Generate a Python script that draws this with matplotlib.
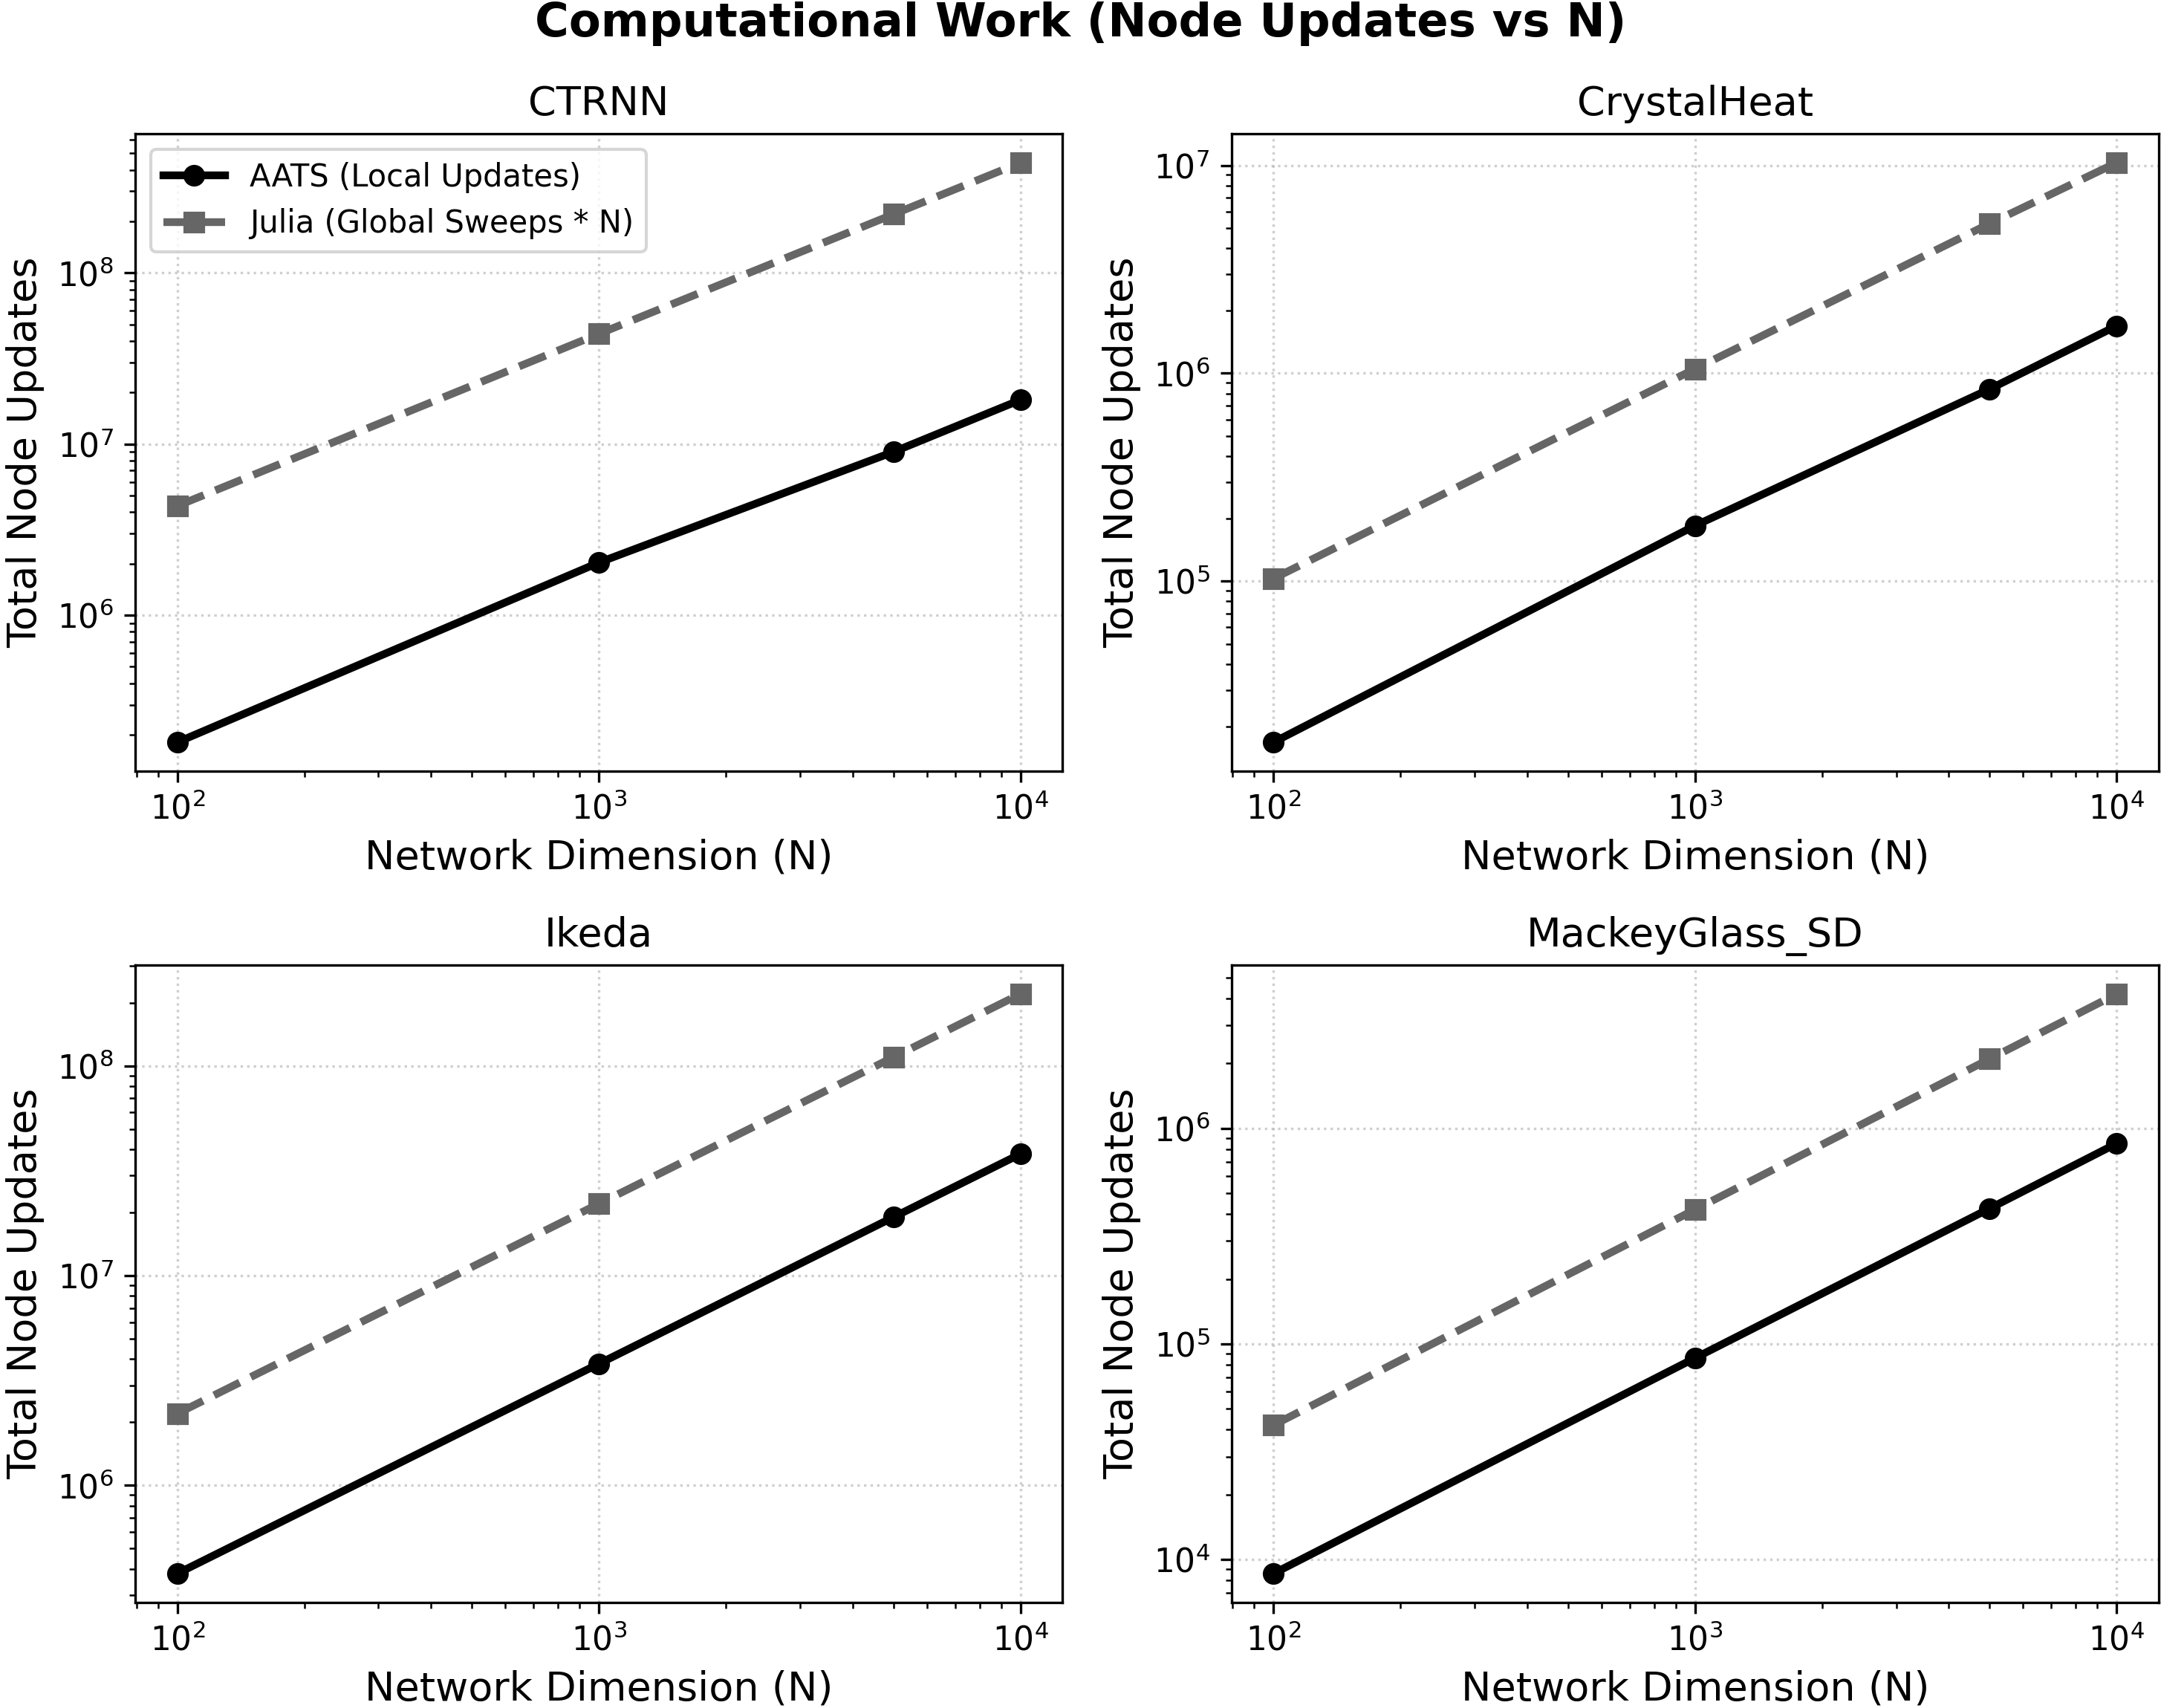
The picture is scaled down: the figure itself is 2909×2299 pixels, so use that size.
import matplotlib
matplotlib.use("Agg")
import matplotlib.pyplot as plt

N = [100, 1000, 5000, 10000]
titles = ["CTRNN", "CrystalHeat", "Ikeda", "MackeyGlass_SD"]

aats_ctrnn = [1.81e5, 2.03e6, 9.0e6, 1.81e7]
julia_ctrnn = [4.35e6, 4.4e7, 2.2e8, 4.4e8]

aats_crystal = [1.68e4, 1.85e5, 8.4e5, 1.69e6]
julia_crystal = [1.03e5, 1.05e6, 5.25e6, 1.03e7]

aats_ikeda = [3.8e5, 3.8e6, 1.9e7, 3.8e7]
julia_ikeda = [2.2e6, 2.2e7, 1.1e8, 2.2e8]

aats_mackey = [8.6e3, 8.6e4, 4.25e5, 8.5e5]
julia_mackey = [4.2e4, 4.2e5, 2.1e6, 4.2e6]

aats_all = [aats_ctrnn, aats_crystal, aats_ikeda, aats_mackey]
julia_all = [julia_ctrnn, julia_crystal, julia_ikeda, julia_mackey]

W, H = 2909, 2299
fig, axes = plt.subplots(2, 2, figsize=(W / 300, H / 300), dpi=300)
fig.subplots_adjust(left=182 / W, right=2906 / W, top=1 - 180 / H, bottom=1 - 2157 / H,
                    wspace=0.182, hspace=0.304)

for ax, title, a, j in zip(axes.flat, titles, aats_all, julia_all):
    ax.plot(N, a, color="black", linestyle="-", marker="o", linewidth=2.5,
            label="AATS (Local Updates)")
    ax.plot(N, j, color="#666666", linestyle="--", marker="s", linewidth=2.5,
            label="Julia (Global Sweeps * N)")
    ax.set_xscale("log")
    ax.set_yscale("log")
    ax.set_title(title, fontsize=13)
    ax.set_xlabel("Network Dimension (N)", fontsize=13)
    ax.set_ylabel("Total Node Updates", fontsize=13)
    ax.tick_params(axis="both", which="major", labelsize=10.5)
    ax.grid(True, which="major", linestyle=":", alpha=0.6)

axes[0, 0].legend(loc="upper left", fontsize=10)
fig.suptitle("Computational Work (Node Updates vs N)", fontsize=15, fontweight="bold",
             y=1 - 32 / H, va="center")

fig.savefig("out.png", dpi=300)
